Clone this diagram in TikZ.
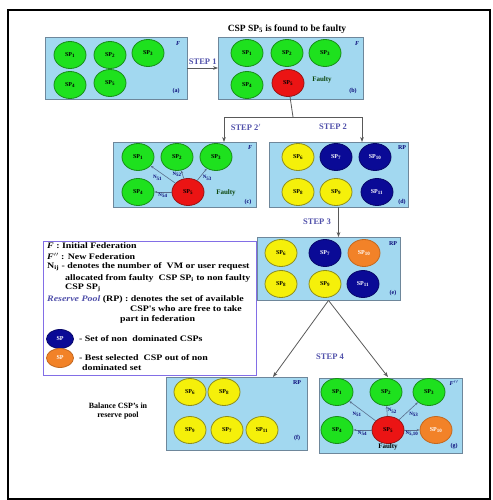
\documentclass[tikz,border=0pt]{standalone}
\usepackage{fontspec}
\setmainfont{Liberation Serif}
\newfontfamily\widefont[FakeStretch=1.18]{Liberation Serif}
\usetikzlibrary{shapes.geometric,arrows.meta}
\definecolor{panelblue}{RGB}{162,216,240}
\definecolor{panelline}{RGB}{110,135,155}
\definecolor{spgreen}{RGB}{30,225,30}
\definecolor{spgreenline}{RGB}{25,140,25}
\definecolor{spred}{RGB}{235,20,20}
\definecolor{spredline}{RGB}{150,20,20}
\definecolor{spyellow}{RGB}{245,240,10}
\definecolor{spyellowline}{RGB}{140,140,30}
\definecolor{spblue}{RGB}{10,10,150}
\definecolor{sporange}{RGB}{242,130,40}
\definecolor{steptext}{RGB}{80,80,170}
\definecolor{legendline}{RGB}{130,110,230}
\definecolor{flowline}{RGB}{90,110,140}
\begin{document}
\begin{tikzpicture}[x=1pt,y=-1pt,
    panel/.style={draw=panelline, fill=panelblue, line width=0.9, inner sep=0},
    sp/.style={ellipse, line width=0.8, minimum width=32, minimum height=27, inner sep=0,
        font=\fontsize{6}{7}\selectfont\bfseries},
    spG/.style={sp, fill=spgreen, draw=spgreenline},
    spR/.style={sp, fill=spred, draw=spredline},
    spY/.style={sp, fill=spyellow, draw=spyellowline},
    spB/.style={sp, fill=spblue, draw=spblue!70!black, text=white},
    spO/.style={sp, fill=sporange, draw=sporange!80!black, text=white},
    steplabel/.style={text=steptext, font=\fontsize{8.5}{9}\selectfont\bfseries},
    tag/.style={text=spblue!80!black, font=\fontsize{6}{7}\selectfont\bfseries},
    note/.style={font=\fontsize{8}{9}\selectfont\bfseries},
    faulty/.style={text=spgreenline!50!black, font=\fontsize{7}{8}\selectfont\bfseries},
    legtext/.style={anchor=west, inner sep=0, font=\widefont\fontsize{8.4}{9}\selectfont\bfseries},
    nlabel/.style={text=spblue!80!black, font=\fontsize{5}{5}\selectfont\bfseries, inner sep=0.5},
    flow/.style={draw=flowline, line width=0.6, -{Stealth[length=3pt]}},
    arrow/.style={draw=black!65, line width=0.8, -{Stealth[length=5pt]}}]
    \useasboundingbox (0,0) rectangle (492,500);
    \draw[line width=1.2] (8,10) rectangle (490,499);

    % (a)
    \node[panel, minimum width=142, minimum height=62] (boxA) at (116,68) {};
    \node[spG] (a1) at (70,55) {SP\textsubscript{1}};
    \node[spG] (a2) at (110,55) {SP\textsubscript{2}};
    \node[spG] (a3) at (148,53) {SP\textsubscript{3}};
    \node[spG] (a4) at (70,85) {SP\textsubscript{4}};
    \node[spG] (a5) at (110,83) {SP\textsubscript{5}};
    \node[tag] at (178,44) {\textit{F}};
    \node[tag] at (176,91) {(a)};

    \draw[arrow] (boxA) -- node[steplabel, above] {STEP 1} (boxA -| 218,0);

    % (b)
    \node[panel, minimum width=145, minimum height=62] (boxB) at (290.5,68) {};
    \node[note, font=\fontsize{9.5}{10}\selectfont\bfseries] at (287,29) {CSP SP\textsubscript{5} is found to be faulty};
    \node[spG] (b1) at (247,53) {SP\textsubscript{1}};
    \node[spG] (b2) at (287,53) {SP\textsubscript{2}};
    \node[spG] (b3) at (325,53) {SP\textsubscript{3}};
    \node[spG] (b4) at (247,85) {SP\textsubscript{4}};
    \node[spR] (b5) at (288,83) {SP\textsubscript{5}};
    \node[faulty] at (322,80) {Faulty};
    \node[tag] at (357,44) {\textit{F}};
    \node[tag] at (353,91) {(b)};

    % split to step 2' and step 2
    \coordinate (split) at (293,117);
    \coordinate (cIn) at (224,142);
    \coordinate (dIn) at (362,142);
    \draw[black!65, line width=0.8] (b5) -- (split);
    \draw[arrow] (split) -| (cIn);
    \draw[arrow] (split) -| (dIn);
    \node[steplabel] at (246,127) {STEP 2$'$};
    \node[steplabel] at (333,127) {STEP 2};

    % (c)
    \node[panel, minimum width=143, minimum height=65] (boxC) at (184.5,174.5) {};
    \node[spG] (c1) at (138,157) {SP\textsubscript{1}};
    \node[spG] (c2) at (177,157) {SP\textsubscript{2}};
    \node[spG] (c3) at (216,157) {SP\textsubscript{3}};
    \node[spG] (c4) at (138,192) {SP\textsubscript{4}};
    \node[spR] (c5) at (188,192) {SP\textsubscript{5}};
    \draw[flow] (c5) -- node[nlabel, below left] {N\textsubscript{51}} (c1);
    \draw[flow] (c5) -- node[nlabel, left] {N\textsubscript{52}} (c2);
    \draw[flow] (c5) -- node[nlabel, below right] {N\textsubscript{53}} (c3);
    \draw[flow] (c5) -- node[nlabel, below] {N\textsubscript{54}} (c4);
    \node[faulty] at (226,193) {Faulty};
    \node[tag] at (250,148) {\textit{F}};
    \node[tag] at (248,202) {(c)};

    % (d)
    \node[panel, minimum width=139, minimum height=65] (boxD) at (338.5,174.5) {};
    \node[spY] (d1) at (298,157) {SP\textsubscript{6}};
    \node[spB] (d2) at (336,157) {SP\textsubscript{7}};
    \node[spB] (d3) at (375,157) {SP\textsubscript{10}};
    \node[spY] (d4) at (298,192) {SP\textsubscript{8}};
    \node[spY] (d5) at (336,192) {SP\textsubscript{9}};
    \node[spB] (d6) at (377,192) {SP\textsubscript{11}};
    \node[tag] at (402,148) {RP};
    \node[tag] at (402,202) {(d)};

    \draw[arrow] (boxD.south) -- node[steplabel, left=4pt] {STEP 3} (boxD.south |- 0,237);

    % (e)
    \node[panel, minimum width=143, minimum height=63] (boxE) at (328.5,268.5) {};
    \node[spY] (e1) at (281,253) {SP\textsubscript{6}};
    \node[spB] (e2) at (325,253) {SP\textsubscript{7}};
    \node[spO] (e3) at (364,253) {SP\textsubscript{10}};
    \node[spY] (e4) at (281,284) {SP\textsubscript{8}};
    \node[spY] (e5) at (325,284) {SP\textsubscript{9}};
    \node[spB] (e6) at (363,284) {SP\textsubscript{11}};
    \node[tag] at (393,244) {RP};
    \node[tag] at (393,293) {(e)};

    % legend
    \node[draw=legendline, line width=1, fill=white, minimum width=213, minimum height=134,
        inner sep=0] (legend) at (149.5,308) {};
    \node[legtext] at (47,246) {\textit{F} : Initial Federation};
    \node[legtext] at (47,256) {\textit{F}$''$ : New Federation};
    \node[legtext] at (47,267) {N\textsubscript{ij} - denotes the number of \ VM or user request};
    \node[legtext] at (65,278) {allocated from faulty \ CSP SP\textsubscript{i} to non faulty};
    \node[legtext] at (65,288) {CSP SP\textsubscript{j}};
    \node[legtext] at (47,299) {\textcolor{steptext}{\textit{Reserve Pool}} (RP) : denotes the set of available};
    \node[legtext] at (130,309) {CSP's who are free to take};
    \node[legtext] at (120,319) {part in federation};
    \node[spB, minimum width=27, minimum height=19] (keyB) at (60,339) {SP};
    \node[legtext] at (79,339) {- Set of non \ dominated CSPs};
    \node[spO, minimum width=27, minimum height=19] (keyO) at (60,358) {SP};
    \node[legtext] at (79,358) {- Best selected \ CSP out of non};
    \node[legtext] at (82,368) {dominated set};

    % step 4
    \coordinate (fIn) at (273,377);
    \coordinate (gIn) at (388,377);
    \draw[arrow] (boxE.south) -- (fIn);
    \draw[arrow] (boxE.south) -- (gIn);
    \node[steplabel] at (330,357) {STEP 4};

    % (f)
    \node[panel, minimum width=141, minimum height=73] (boxF) at (236.5,413.5) {};
    \node[spY] (f1) at (190,392) {SP\textsubscript{6}};
    \node[spY] (f2) at (224,392) {SP\textsubscript{8}};
    \node[spY] (f3) at (190,430) {SP\textsubscript{9}};
    \node[spY] (f4) at (227,430) {SP\textsubscript{7}};
    \node[spY] (f5) at (262,430) {SP\textsubscript{11}};
    \node[tag] at (297,383) {RP};
    \node[tag] at (297,438) {(f)};
    \node[note, align=center] at (118,411) {Balance CSP's in\\reserve pool};

    % (g)
    \node[panel, minimum width=143, minimum height=75] (boxG) at (390.5,415.5) {};
    \node[spG] (g1) at (337,392) {SP\textsubscript{1}};
    \node[spG] (g2) at (386,392) {SP\textsubscript{2}};
    \node[spG] (g3) at (429,392) {SP\textsubscript{3}};
    \node[spG] (g4) at (337,430) {SP\textsubscript{4}};
    \node[spR] (g5) at (388,430) {SP\textsubscript{5}};
    \node[spO] (g6) at (436,430) {SP\textsubscript{10}};
    \draw[flow] (g5) -- node[nlabel, below left] {N\textsubscript{51}} (g1);
    \draw[flow] (g5) -- node[nlabel, right] {N\textsubscript{52}} (g2);
    \draw[flow] (g5) -- node[nlabel, below right] {N\textsubscript{53}} (g3);
    \draw[flow] (g5) -- node[nlabel, below] {N\textsubscript{54}} (g4);
    \draw[flow] (g5) -- node[nlabel, below] {N\textsubscript{5,10}} (g6);
    \node[faulty, text=black] at (388,447) {Faulty};
    \node[tag] at (454,383) {\textit{F}$''$};
    \node[tag] at (454,446) {(g)};
\end{tikzpicture}
\end{document}
